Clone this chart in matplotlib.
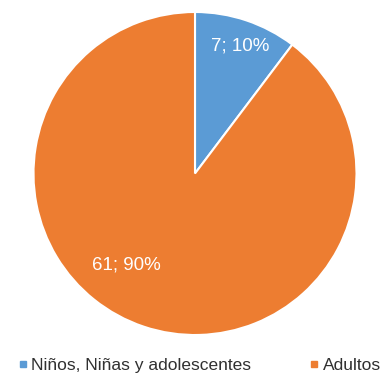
import matplotlib
matplotlib.use("Agg")
import matplotlib.pyplot as plt
import numpy as np
from matplotlib.lines import Line2D

categories = ["Niños, Niñas y adolescentes", "Adultos"]
values = [7, 61]
colors = ["#5B9BD5", "#ED7D31"]

plt.rcParams['font.family'] = ['Liberation Sans', 'DejaVu Sans']

fig = plt.figure(figsize=(3.87, 3.81), dpi=100)
ax = fig.add_axes([33/387, 46/381, 324/387, 323/381])
total = sum(values)
labels = [f"{v}; {round(100*v/total)}%" for v in values]
wedges, texts = ax.pie(values, colors=colors, startangle=90, counterclock=False,
                       labels=labels, labeldistance=0.8,
                       wedgeprops=dict(edgecolor="white", linewidth=1.5),
                       textprops=dict(color="white", fontsize=13.5))
for t in texts:
    t.set_ha("center"); t.set_va("center")
# Excel-like placement of the slice labels
ang = np.deg2rad(-127)
texts[1].set_position((0.71*np.cos(ang), 0.71*np.sin(ang)))
ang0 = np.deg2rad(70.6)
texts[0].set_position((0.84*np.cos(ang0), 0.84*np.sin(ang0)))
ax.set_xlim(-1, 1); ax.set_ylim(-1, 1)
ax.set_aspect("equal")

handles = [Line2D([0], [0], marker="s", linestyle="", markersize=4.5,
                  markerfacecolor=c, markeredgecolor=c) for c in colors]
fig.legend(handles, categories, loc="center", bbox_to_anchor=(0.508, 16/381),
           ncol=2, frameon=False, fontsize=12.5, handletextpad=-0.1,
           handlelength=1.2, columnspacing=3.0, labelcolor="#303030")
fig.savefig("out.png", dpi=100)
